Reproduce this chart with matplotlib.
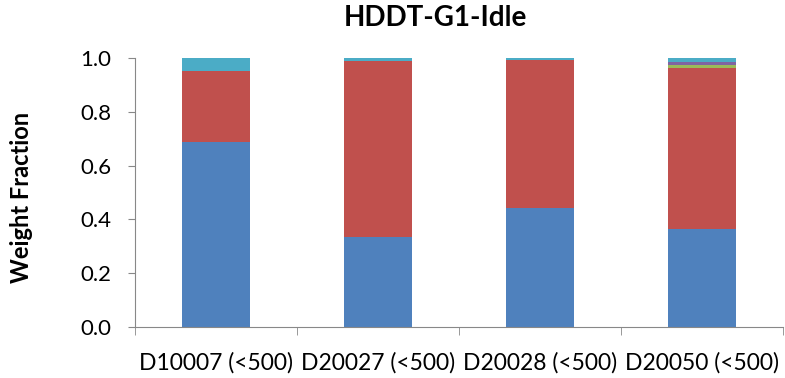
import numpy as np
import matplotlib.pyplot as plt

plt.rcParams['font.family'] = ['Lato', 'DejaVu Sans']

samples = ["D10007 (<500)", "D20027 (<500)", "D20028 (<500)", "D20050 (<500)"]
comp_a = [0.687, 0.336, 0.444, 0.366]
comp_b = [0.263, 0.654, 0.548, 0.598]
comp_c = [0.000, 0.000, 0.000, 0.010]
comp_d = [0.002, 0.000, 0.000, 0.011]
comp_e = [0.048, 0.010, 0.008, 0.015]

layers = [comp_a, comp_b, comp_c, comp_d, comp_e]
colors = ["#4F81BD", "#C0504D", "#9BBB59", "#8064A2", "#4BACC6"]

fig, ax = plt.subplots(figsize=(7.85, 3.78), dpi=100)
fig.subplots_adjust(left=0.172, right=0.9975, top=0.8466, bottom=0.135)

x = np.arange(len(samples))
bottom = np.zeros(len(samples))
for vals, c in zip(layers, colors):
    ax.bar(x, vals, width=0.415, bottom=bottom, color=c, edgecolor="none")
    bottom += np.array(vals)

ax.set_xlim(-0.5, len(samples) - 0.5)
ax.set_ylim(0, 1.0)
yt = np.arange(0, 1.01, 0.2)
ax.set_yticks(yt)
ax.set_yticklabels(["%.1f" % v for v in yt], fontsize=16)
ax.set_xticks(x)
ax.set_xticklabels(samples, fontsize=16.5)
ax.set_xticks(np.arange(-0.5, len(samples)), minor=True)
ax.tick_params(axis="x", which="major", length=0, pad=18)
ax.tick_params(axis="x", which="minor", length=6, color="#888888", direction="out")
ax.tick_params(axis="y", length=5, color="#888888", direction="out", pad=12)

for s in ["top", "right"]:
    ax.spines[s].set_visible(False)
for s in ["left", "bottom"]:
    ax.spines[s].set_color("#888888")

fig.text(0.555, 0.952, "HDDT-G1-Idle", fontsize=20, fontweight="bold",
         ha="center", va="center")
fig.text(0.028, 0.479, "Weight Fraction", fontsize=17, fontweight="bold",
         ha="center", va="center", rotation=90)

fig.savefig("out.png", dpi=100)
